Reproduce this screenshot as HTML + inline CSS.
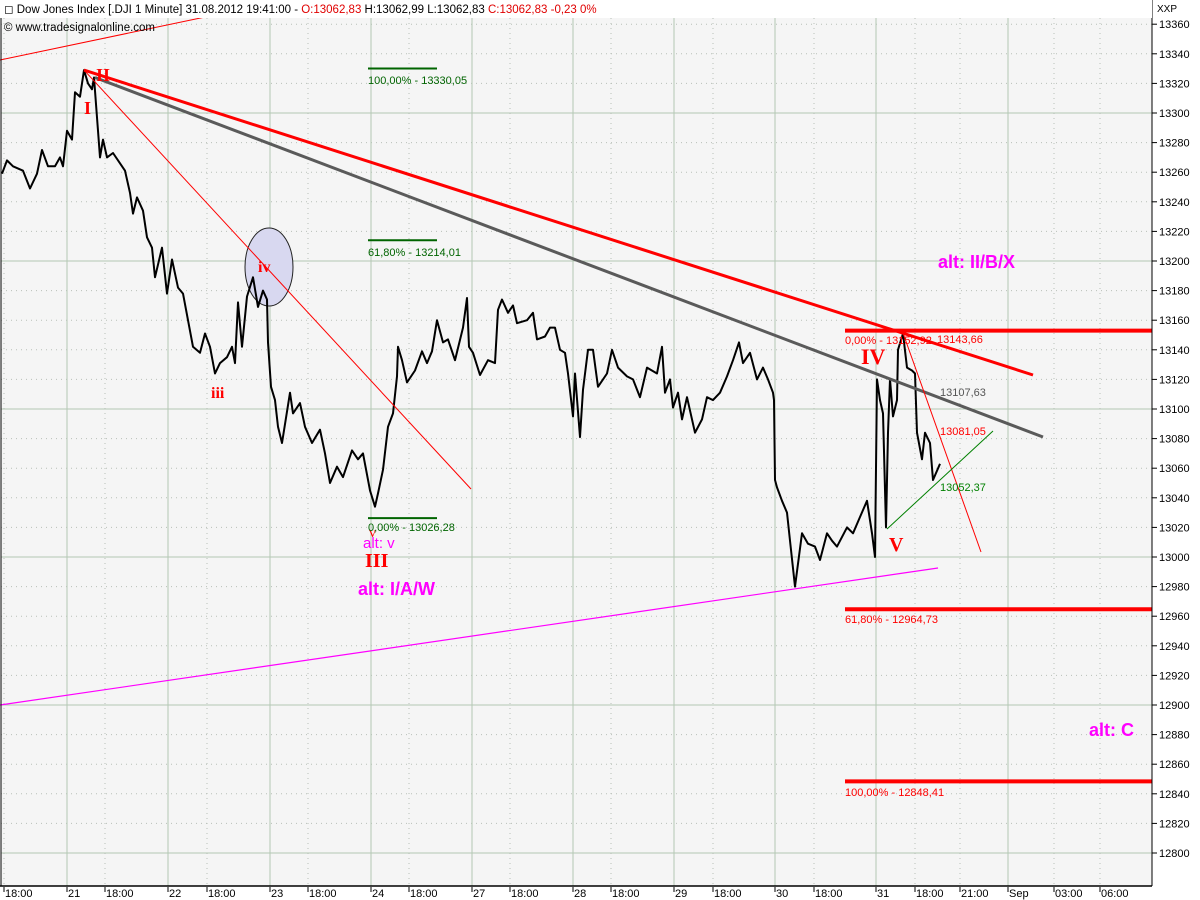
<!DOCTYPE html>
<html><head><meta charset="utf-8"><style>
html,body{margin:0;padding:0;background:#fff;}
svg{display:block;font-family:"Liberation Sans",sans-serif;}
</style></head><body>
<svg id="chart" width="1200" height="900" viewBox="0 0 1200 900" xmlns="http://www.w3.org/2000/svg">
<rect x="0" y="0" width="1200" height="900" fill="#ffffff"/>
<rect x="1" y="0" width="1151" height="886" fill="#f5f5f5"/>
<g id="grid"></g>
<g id="annot-under">
  <line x1="0" y1="60" x2="210" y2="16" stroke="#ff0000" stroke-width="1"/>
  <line x1="210" y1="16" x2="290" y2="0" stroke="#ffc0c0" stroke-width="1"/>
  <ellipse cx="269" cy="267" rx="24" ry="39" fill="#d8d8f0" stroke="#222" stroke-width="1"/>
</g>
<path id="price" fill="none" stroke="#000" stroke-width="2" stroke-linejoin="round"/>
<g id="annot"></g>
<g id="labels"></g>
<g id="axes"></g>
<rect x="0" y="0" width="1152" height="18" fill="#ffffff"/>
<text x="4" y="13" font-size="11.5" fill="#000">◻ Dow Jones Index [.DJI  1 Minute] 31.08.2012 19:41:00 - <tspan fill="#e00000">O:13062,83</tspan> H:13062,99 L:13062,83 <tspan fill="#e00000">C:13062,83 -0,23 0%</tspan></text>
<text x="4" y="31" font-size="11.5" fill="#000">© www.tradesignalonline.com</text>
<text x="1157" y="12" font-size="10" fill="#000">XXP</text>
</svg>
<script>
const bars = [-65,-60,-54,-44,-37,-30,-25,-19,-12,-7,-4,0,5,8,13,17,21,25,27,30,33,36,40,46,53,58,63,66,70,76,80,85,88,95,100,105,111,116,121,126,133,138,143,148,153,160,165,168,171,175,180,186,191,196,200,201,204,208,211,215,223,226,233,238,245,253,258,263,270,276,285,291,296,303,308,311,316,321,326,330,331,335,340,348,355,360,365,370,376,381,388,396,400,402,406,413,421,428,431,435,441,446,450,460,466,470,478,483,488,493,498,501,506,508,513,516,521,526,531,536,540,545,551,560,566,573,580,590,595,598,603,606,611,615,620,628,635,640,646,653,660,666,672,676,683,690,696,701,706,707,708,710,715,720,723,728,735,741,748,753,760,765,770,780,786,793,800,805,808,810,813,816,819,821,823,826,830,831,836,840,845,848,850,855,858,863,866,873];
const prices = [13259,13268,13264,13261,13249,13259,13275,13264,13264,13270,13264,13288,13282,13314,13311,13329,13320,13316,13324,13297,13270,13282,13270,13273,13266,13261,13246,13232,13243,13234,13216,13209,13189,13209,13178,13201,13182,13178,13160,13142,13138,13151,13142,13124,13131,13135,13142,13131,13172,13142,13176,13189,13169,13180,13174,13145,13115,13106,13088,13077,13111,13097,13104,13088,13077,13086,13070,13050,13061,13054,13072,13066,13070,13045,13034,13043,13059,13088,13097,13122,13142,13133,13118,13126,13139,13131,13139,13160,13145,13147,13133,13155,13175,13142,13138,13123,13133,13131,13167,13174,13165,13170,13158,13160,13165,13147,13149,13155,13155,13140,13138,13124,13095,13124,13081,13113,13140,13140,13115,13120,13124,13140,13128,13122,13120,13108,13128,13124,13142,13111,13120,13101,13111,13093,13108,13084,13093,13108,13106,13111,13122,13133,13145,13131,13138,13120,13128,13120,13111,13106,13052,13047,13038,13030,13011,12980,13016,13009,13007,12998,13016,13011,13007,13020,13016,13027,13038,13016,13000,13120,13106,13097,13020,13084,13120,13095,13106,13140,13151,13128,13126,13124,13084,13066,13084,13077,13052,13063];
const yTicks = [13360,13340,13320,13300,13280,13260,13240,13220,13200,13180,13160,13140,13120,13100,13080,13060,13040,13020,13000,12980,12960,12940,12920,12900,12880,12860,12840,12820,12800];
const xTickLabels = ["18:00","21","18:00","22","18:00","23","18:00","24","18:00","27","18:00","28","18:00","29","18:00","30","18:00","31","18:00","21:00","Sep","03:00","06:00"];
const xTickBars = [-63,0,38,101,140,203,241,304,342,405,443,506,544,607,646,708,747,809,848,893,941,987,1033];
const xTickMajor = [0,1,0,1,0,1,0,1,0,1,0,1,0,1,0,1,0,1,0,0,1,0,0];

const NS="http://www.w3.org/2000/svg";
const xS = b => 67 + b;
const yS = v => 113 + (13300 - v) * 1.48;
function mk(tag, attrs, parent){const e=document.createElementNS(NS,tag);for(const k in attrs)e.setAttribute(k,attrs[k]);parent.appendChild(e);return e;}

const grid=document.getElementById('grid');
yTicks.forEach(v=>{
  const major = v % 100 === 0;
  const l=mk('line',{x1:1,x2:1152,y1:yS(v),y2:yS(v),stroke:major?'#b4c8b4':'#b8c0b8','stroke-width':1,'stroke-dasharray':major?'none':'1,4'},grid);
  
  
});
xTickBars.forEach((b,i)=>{
  const major = xTickMajor[i]===1;
  const l=mk('line',{x1:xS(b),x2:xS(b),y1:18,y2:886,stroke:major?'#b4c8b4':'#b8c0b8','stroke-width':1,'stroke-dasharray':major?'none':'1,4'},grid);
  
  
});

let d='';
bars.forEach((b,i)=>{d+=(i?'L':'M')+xS(b).toFixed(1)+','+yS(prices[i]).toFixed(1);});
document.getElementById('price').setAttribute('d',d);

const an=document.getElementById('annot');
function line(x1,y1,x2,y2,c,w,name){const l=mk('line',{x1,y1,x2,y2,stroke:c,'stroke-width':w},an);}
line(xS(17),yS(13329),1033,375,'#ff0000',3,'red-trendline');
line(xS(28),yS(13324),1043,437,'#5a5a5a',3,'gray-trendline');
line(xS(17),yS(13329),471,489,'#ff0000',1,'thin-red-trendline');
line(0,705,938,568,'#ff00ff',1.2,'magenta-support-line');
line(845,yS(13152.92),1152,yS(13152.92),'#ff0000',4,'fib-0-line');
line(845,yS(12964.73),1152,yS(12964.73),'#ff0000',4,'fib-618-line');
line(845,yS(12848.41),1152,yS(12848.41),'#ff0000',4,'fib-100-line');
line(368,yS(13330.05),437,yS(13330.05),'#006400',2,'green-fib-100');
line(368,yS(13214.01),437,yS(13214.01),'#006400',2,'green-fib-618');
line(368,yS(13026.28),437,yS(13026.28),'#006400',2,'green-fib-0');
line(903,333,981,552,'#ff0000',1,'thin-red-down-line');
line(887,529,993,431,'#008000',1,'green-support-line');

const lb=document.getElementById('labels');
function txt(x,y,s,c,size,weight,fam,name){const t=mk('text',{x,y,fill:c,'font-size':size,'font-weight':weight,'font-family':fam},lb);t.textContent=s;}
const serif='"Liberation Serif",serif', sans='"Liberation Sans",sans-serif';
txt(96,81,'II','#ff0000',18,'bold',serif,'wave-II-label');
txt(84,114,'I','#ff0000',18,'bold',serif,'wave-I-label');
txt(211,398,'iii','#ff0000',16,'bold',serif,'wave-iii-label');
txt(258,272,'iv','#ff0000',16,'bold',serif,'wave-iv-label');
txt(369,537,'v','#ff0000',14,'normal',serif,'wave-v-label');
txt(363,548,'alt: v','#ff00ff',15,'normal',sans,'alt-v-label');
txt(365,567,'III','#ff0000',20,'bold',serif,'wave-III-label');
txt(358,595,'alt: I/A/W','#ff00ff',18,'bold',sans,'alt-IAW-label');
txt(861,364,'IV','#ff0000',22,'bold',serif,'wave-IV-label');
txt(889,551,'V','#ff0000',20,'bold',serif,'wave-V-label');
txt(938,268,'alt: II/B/X','#ff00ff',18,'bold',sans,'alt-IIBX-label');
txt(1089,736,'alt: C','#ff00ff',18,'bold',sans,'alt-C-label');
txt(368,84,'100,00% - 13330,05','#006400',11,'normal',sans,'green-fib-100-text');
txt(368,256,'61,80% - 13214,01','#006400',11,'normal',sans,'green-fib-618-text');
txt(368,531,'0,00% - 13026,28','#006400',11,'normal',sans,'green-fib-0-text');
txt(845,344,'0,00% - 13152,92','#ff0000',11,'normal',sans,'fib-0-text');
txt(937,343,'13143,66','#ff0000',11,'normal',sans,'value-13143');
txt(940,396,'13107,63','#555555',11,'normal',sans,'value-13107');
txt(940,435,'13081,05','#ff0000',11,'normal',sans,'value-13081');
txt(940,491,'13052,37','#008000',11,'normal',sans,'value-13052');
txt(845,623,'61,80% - 12964,73','#ff0000',11,'normal',sans,'fib-618-text');
txt(845,796,'100,00% - 12848,41','#ff0000',11,'normal',sans,'fib-100-text');

const ax=document.getElementById('axes');
let b1=mk('line',{x1:1152,y1:0,x2:1152,y2:886,stroke:'#000','stroke-width':1},ax);


let b2=mk('line',{x1:0,y1:886,x2:1152,y2:886,stroke:'#000','stroke-width':1.5},ax);


let b3=mk('line',{x1:1,y1:0,x2:1,y2:886,stroke:'#000','stroke-width':1},ax);


yTicks.forEach(v=>{
  const t=mk('line',{x1:1152,x2:1157,y1:yS(v),y2:yS(v),stroke:'#000'},ax);
  
  
  const tx=mk('text',{x:1159,y:yS(v)+4,'font-size':11,fill:'#000'},ax);
  tx.textContent=v;
  
  
});
xTickBars.forEach((b,i)=>{
  const t=mk('line',{x1:xS(b),x2:xS(b),y1:887,y2:892,stroke:'#000'},ax);
  
  
  const tx=mk('text',{x:xS(b)+1,y:897,'font-size':11,fill:'#000'},ax);
  tx.textContent=xTickLabels[i];
  
  
});
</script>
</body></html>
